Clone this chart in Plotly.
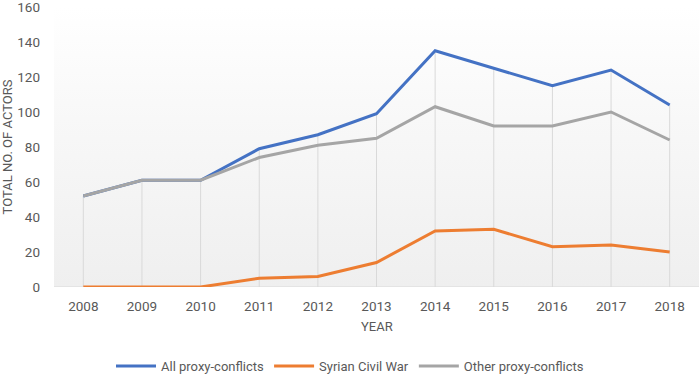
import plotly.graph_objects as go

years = [2008, 2009, 2010, 2011, 2012, 2013, 2014, 2015, 2016, 2017, 2018]
all_proxy = [52, 61, 61, 79, 87, 99, 135, 125, 115, 124, 104]
syrian = [0, 0, 0, 5, 6, 14, 32, 33, 23, 24, 20]
other = [52, 61, 61, 74, 81, 85, 103, 92, 92, 100, 84]
y_ticks = [0, 20, 40, 60, 80, 100, 120, 140, 160]

FONT = "Roboto"
TXT = "#595959"

fig = go.Figure()

x0, x1 = years[0] - 0.5, years[-1] + 0.5
y0, y1 = y_ticks[0], y_ticks[-1]

# gradient plot-area background
fig.add_trace(go.Scatter(
    x=[x0, x1, x1, x0, x0], y=[y0, y0, y1, y1, y0],
    mode="lines", line=dict(width=0), fill="toself",
    fillgradient=dict(type="vertical",
                      colorscale=[[0, "#efefef"], [0.6, "#f8f8f8"], [1, "#ffffff"]]),
    hoverinfo="skip", showlegend=False))

# zero line
fig.add_trace(go.Scatter(x=[x0, x1], y=[0, 0], mode="lines",
                         line=dict(color="#d9d9d9", width=1),
                         hoverinfo="skip", showlegend=False))

# drop lines from the top series to zero
dx, dy = [], []
for xv, yv in zip(years, all_proxy):
    dx += [xv, xv, None]
    dy += [0, yv, None]
fig.add_trace(go.Scatter(x=dx, y=dy, mode="lines",
                         line=dict(color="#d9d9d9", width=1),
                         hoverinfo="skip", showlegend=False))

fig.add_trace(go.Scatter(x=years, y=all_proxy, mode="lines", name="All proxy-conflicts",
                         line=dict(color="#4472c4", width=3)))
fig.add_trace(go.Scatter(x=years, y=syrian, mode="lines", name="Syrian Civil War",
                         line=dict(color="#ed7d31", width=3)))
fig.add_trace(go.Scatter(x=years, y=other, mode="lines", name="Other proxy-conflicts",
                         line=dict(color="#a5a5a5", width=3)))

fig.update_layout(
    width=700, height=375,
    margin=dict(l=54, r=1, t=7, b=88, autoexpand=False),
    paper_bgcolor="white", plot_bgcolor="white",
    font=dict(family=FONT, size=13, color=TXT),
    legend=dict(orientation="h", xref="container", x=0.5, xanchor="center",
                yref="container", y=(375 - 366) / 375, yanchor="middle",
                font=dict(family=FONT, size=13, color=TXT),
                itemwidth=40, traceorder="normal"),
    xaxis=dict(range=[x0, x1], tickvals=years, ticktext=[str(y) for y in years],
               showgrid=False, zeroline=False, showline=False, automargin=False,
               ticklabelstandoff=9, ticklabeloverflow="allow",
               tickfont=dict(size=13.5, color=TXT)),
    yaxis=dict(range=[y0, y1], tickvals=y_ticks, showgrid=False, zeroline=False,
               showline=False, ticklabelstandoff=13, automargin=False,
               ticklabeloverflow="allow",
               tickfont=dict(size=13.5, color=TXT),
               title=dict(text="TOTAL NO. OF ACTORS", font=dict(size=13, color=TXT),
                          standoff=4)),
    annotations=[dict(text="YEAR", xref="paper", yref="paper", x=0.5, y=-39 / 280,
                      xanchor="center", yanchor="middle", showarrow=False,
                      font=dict(family=FONT, size=13, color=TXT))],
)

fig.write_html("out.html", config={"displayModeBar": False},
               post_script="document.body.style.margin='0';")
